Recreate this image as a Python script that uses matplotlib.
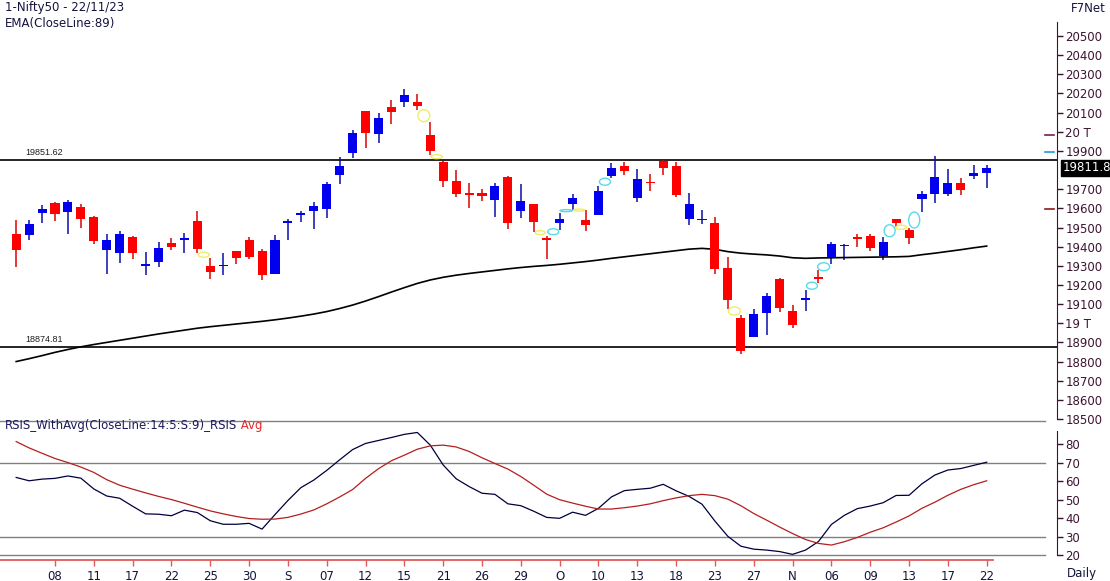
import matplotlib
matplotlib.use("Agg")
import matplotlib.pyplot as plt
from matplotlib.patches import Ellipse
import numpy as np

# --- Data (Nifty50 daily) ---
dates = ["03/08", "04/08", "07/08", "08/08", "09/08", "10/08", "11/08", "14/08", "16/08", "17/08",
         "18/08", "21/08", "22/08", "23/08", "24/08", "25/08", "28/08", "29/08", "30/08", "31/08",
         "01/09", "04/09", "05/09", "06/09", "07/09", "08/09", "11/09", "12/09", "13/09", "14/09",
         "15/09", "18/09", "20/09", "21/09", "22/09", "25/09", "26/09", "27/09", "28/09", "29/09",
         "03/10", "04/10", "05/10", "06/10", "09/10", "10/10", "11/10", "12/10", "13/10", "16/10",
         "17/10", "18/10", "19/10", "20/10", "23/10", "25/10", "26/10", "27/10", "30/10", "31/10",
         "01/11", "02/11", "03/11", "06/11", "07/11", "08/11", "09/11", "10/11", "12/11", "13/11",
         "15/11", "16/11", "17/11", "20/11", "21/11", "22/11"]

opens = [19464, 19463, 19577, 19627, 19579, 19606, 19554, 19384, 19369, 19451,
         19302, 19321, 19417, 19439, 19535, 19297, 19298, 19375, 19433, 19376,
         19258, 19525, 19564, 19588, 19599, 19775, 19890, 20110, 19990, 20128,
         20156, 20156, 19981, 19841, 19745, 19678, 19682, 19642, 19762, 19588,
         19622, 19446, 19522, 19621, 19539, 19566, 19767, 19823, 19655, 19737,
         19848, 19820, 19546, 19542, 19522, 19286, 19027, 18929, 19053, 19233,
         19064, 19120, 19241, 19346, 19404, 19450, 19457, 19352, 19547, 19487,
         19651, 19675, 19674, 19731, 19771, 19784]
highs = [19538, 19538, 19620, 19634, 19646, 19624, 19558, 19466, 19483, 19456,
         19373, 19426, 19444, 19472, 19584, 19340, 19367, 19378, 19453, 19388,
         19459, 19545, 19587, 19632, 19737, 19867, 20008, 20110, 20097, 20168,
         20222, 20195, 20050, 19849, 19799, 19734, 19699, 19731, 19767, 19726,
         19623, 19458, 19577, 19676, 19589, 19718, 19839, 19844, 19805, 19781,
         19852, 19841, 19682, 19594, 19557, 19347, 19042, 19076, 19159, 19234,
         19096, 19175, 19276, 19424, 19412, 19464, 19464, 19451, 19547, 19495,
         19693, 19875, 19806, 19756, 19826, 19826]
lows = [19296, 19436, 19525, 19533, 19468, 19495, 19413, 19258, 19317, 19334,
        19254, 19296, 19381, 19367, 19369, 19230, 19250, 19309, 19335, 19224,
        19256, 19433, 19530, 19490, 19550, 19727, 19865, 19915, 19943, 20043,
        20130, 20116, 19879, 19710, 19658, 19602, 19637, 19554, 19492, 19551,
        19475, 19334, 19487, 19589, 19480, 19565, 19757, 19773, 19635, 19692,
        19776, 19660, 19513, 19519, 19258, 19074, 18838, 18927, 18940, 19057,
        18974, 19064, 19211, 19310, 19330, 19400, 19379, 19329, 19501, 19415,
        19580, 19627, 19667, 19671, 19754, 19704]
closes = [19382, 19517, 19597, 19571, 19633, 19543, 19428, 19435, 19465, 19365,
          19310, 19394, 19396, 19444, 19387, 19266, 19306, 19343, 19347, 19254,
          19435, 19529, 19575, 19611, 19727, 19820, 19996, 19993, 20070, 20103,
          20192, 20133, 19901, 19742, 19674, 19675, 19665, 19716, 19524, 19638,
          19529, 19436, 19546, 19654, 19512, 19690, 19811, 19794, 19751, 19732,
          19812, 19671, 19625, 19543, 19282, 19122, 18857, 19047, 19141, 19080,
          18989, 19133, 19231, 19412, 19407, 19444, 19395, 19425, 19526, 19444,
          19675, 19765, 19732, 19694, 19783, 19812]

ema89 = [18800, 18815, 18831, 18848, 18863, 18877, 18889, 18900, 18911, 18922,
         18933, 18944, 18954, 18964, 18974, 18982, 18989, 18996, 19003, 19010,
         19018, 19027, 19037, 19048, 19061, 19077, 19095, 19116, 19139, 19163,
         19186, 19208, 19226, 19240, 19251, 19260, 19268, 19276, 19284, 19291,
         19297, 19302, 19308, 19315, 19322, 19330, 19339, 19347, 19355, 19363,
         19371, 19379, 19387, 19391, 19386, 19374, 19366, 19361, 19357, 19351,
         19342, 19339, 19341, 19342, 19343, 19344, 19345, 19346, 19347, 19349,
         19358, 19366, 19375, 19384, 19394, 19403]

rsi = [62.0, 60.2, 61.1, 61.5, 62.8, 61.6, 55.8, 52.0, 50.8, 46.5,
       42.4, 42.2, 41.4, 44.4, 43.1, 38.7, 36.8, 36.8, 37.3, 34.2,
       42.0, 49.6, 56.5, 60.6, 65.8, 71.5, 77.0, 80.3, 81.9, 83.5,
       85.2, 86.2, 79.4, 68.7, 61.3, 57.1, 53.5, 52.9, 47.8, 46.8,
       43.8, 40.5, 40.0, 43.3, 41.6, 45.4, 51.5, 54.9, 55.6, 56.2,
       58.3, 54.8, 51.8, 47.6, 38.5, 30.3, 25.0, 23.4, 22.9, 22.1,
       20.6, 22.9, 27.5, 36.7, 41.6, 45.2, 46.6, 48.4, 52.3, 52.4,
       58.6, 63.3, 66.0, 66.8, 68.5, 70.2]
rsi_avg = [81.3, 77.9, 75.0, 72.2, 70.0, 67.6, 64.7, 60.8, 57.8, 55.7,
           53.7, 51.8, 50.1, 48.1, 46.0, 44.0, 42.4, 41.0, 39.9, 39.5,
           39.6, 40.5, 42.3, 44.5, 47.8, 51.5, 55.5, 61.5, 66.7, 71.0,
           74.0, 77.2, 79.0, 79.4, 78.4, 76.0, 72.6, 69.5, 66.5, 62.5,
           57.8, 53.0, 50.0, 48.2, 46.5, 45.0, 45.0, 45.7, 46.6, 47.8,
           49.5, 51.0, 52.2, 52.9, 52.2, 50.3, 46.8, 42.6, 39.0, 35.3,
           31.8, 28.6, 26.5, 25.6, 27.4, 29.7, 32.5, 34.9, 38.0, 41.3,
           45.4, 48.7, 52.4, 55.6, 58.1, 60.2]

tick_labels = ["08", "11", "17", "22", "25", "30", "S", "07", "12", "15", "21", "26", "29",
               "O", "10", "13", "18", "23", "27", "N", "06", "09", "13", "17", "22"]

# signal markers (bar position, price, colour)
mark_pos = [14.5, 31.5, 32.5, 40.5, 41.5, 42.5, 43.5, 45.5, 55.5, 61.5, 62.4, 67.5, 68.4, 69.4]
mark_price = [19358, 20084, 19870, 19473, 19478, 19588, 19591, 19739, 19064, 19196, 19295,
              19483, 19501, 19539]
mark_kind = ["y", "y", "y", "y", "c", "c", "y", "c", "y", "c", "c", "c", "y", "c"]

levels = [19851.62, 18874.81]
last_price = 19811.8

# --- Styling ---
plt.rcParams["font.family"] = ["DejaVu Sans"]
W, H = 1110, 581
PX = 12.94                    # pixels per bar
PPX = 5.222                   # price per pixel
BLUE, BLUE_W = "#0000ee", "#0c0ca8"
RED, RED_W = "#ff0000", "#dd0000"
AXC = "#3c1432"
TXT = "#14143c"
mark_w = [11, 12, 11, 10, 11, 12, 11, 11, 12, 11, 12, 11, 11, 11]
mark_h = [5, 12, 4, 4, 6, 2, 2, 7, 8, 7, 8, 12, 4, 16]
mark_col = {"y": "#eeee66", "c": "#55dde6"}


def rect(x0, y0, x1, y1):
    return [x0 / W, 1 - y1 / H, (x1 - x0) / W, (y1 - y0) / H]


fig = plt.figure(figsize=(W / 100, H / 100), dpi=100)
ax = fig.add_axes(rect(0, 0, 1057, 419))
ax2 = fig.add_axes(rect(0, 420, 1057, 560))

x = np.arange(len(dates))
o = np.array(opens, float)
h = np.array(highs, float)
l = np.array(lows, float)
c = np.array(closes, float)
xlim = (-16.18 / PX, (1057 - 16.18) / PX)

# --- Candles ---
up = c >= o
ax.vlines(x, l, h, colors=np.where(up, BLUE_W, RED_W), lw=1.1, zorder=2)
hgt = np.maximum(np.abs(c - o), 9)
ax.bar(x, hgt, 0.7, bottom=(o + c) / 2 - hgt / 2, color=np.where(up, BLUE, RED), zorder=3)

ax.plot(x, ema89, color="black", lw=1.2, zorder=2)

for p, pr, k, w, hh in zip(mark_pos, mark_price, mark_kind, mark_w, mark_h):
    ax.add_patch(Ellipse((p, pr), w / PX, hh * PPX, fill=False, ec=mark_col[k], lw=1.0, zorder=4))

for lv in levels:
    ax.axhline(lv, color="black", lw=1.2, zorder=1)
    ax.annotate(f"{lv:.2f}", xy=(25 / 1057, lv), xycoords=("axes fraction", "data"),
                xytext=(0, 2), textcoords="offset points", fontsize=6.5,
                family="Liberation Sans", color="#202020", va="bottom")

# small marks left of the price scale
for lv, col in [(19983, "#7a1a5a"), (19896, "#1a9ed0"), (19595, "#8a1a1a")]:
    ax.axhline(lv, xmin=1045 / 1057, xmax=1054 / 1057, color=col, lw=1.2)

ax.set_xlim(*xlim)
ax.set_ylim(18500, 18500 + 419 * PPX)
for s in ["left", "top", "bottom"]:
    ax.spines[s].set_visible(False)
ax.spines["right"].set_color(AXC)
ax.spines["right"].set_bounds(18500, 20573)
yt = [v for v in range(18500, 20501, 100) if v != 19800]
ax.set_yticks(yt)
ax.set_yticklabels(["19 T" if v == 19000 else "20 T" if v == 20000 else str(v) for v in yt])
ax.yaxis.tick_right()
ax.tick_params(axis="y", length=4, width=1, colors=AXC, labelsize=8.5, pad=2)
ax.set_xticks([])
ax.annotate(f"{last_price}", xy=(1, last_price), xycoords=("axes fraction", "data"),
            xytext=(4, 0), textcoords="offset points", va="center", ha="left",
            fontsize=8.5, color="white", annotation_clip=False,
            bbox=dict(boxstyle="square,pad=0.12", fc="black", ec="black"))

# --- RSI panel ---
ax2.plot(x, rsi, color="#00003c", lw=0.9, zorder=3)
ax2.plot(x, rsi_avg, color="#b41e1e", lw=0.9, zorder=3)
for lv in [92.6, 70, 30, 20]:
    ax2.axhline(lv, xmax=1045 / 1057, color="#808080", lw=1.0, zorder=1)
ax2.set_xlim(*xlim)
ax2.set_ylim(80 - 116 / 1.858, 80 + 24 / 1.858)
for s in ["left", "top"]:
    ax2.spines[s].set_visible(False)
ax2.spines["right"].set_color(AXC)
ax2.spines["right"].set_bounds(20, 87)
ax2.spines["bottom"].set_color("#e05a5a")
ax2.spines["bottom"].set_linewidth(1.3)
ax2.spines["bottom"].set_bounds(xlim[0], (993 - 16.18) / PX)
ax2.set_yticks(range(20, 81, 10))
ax2.yaxis.tick_right()
ax2.tick_params(axis="y", length=4, width=1, colors=AXC, labelsize=8.5, pad=2)
ax2.set_xticks(x[3::3])
ax2.set_xticklabels(tick_labels)
ax2.tick_params(axis="x", length=4, width=1, color="#e05a5a", labelcolor=TXT, labelsize=8.5, pad=3)

# --- Texts ---
fig.text(5 / W, 1 - 8 / H, "1-Nifty50 - 22/11/23", fontsize=8.5, color=TXT, va="center")
fig.text(5 / W, 1 - 23 / H, "EMA(CloseLine:89)", fontsize=8.5, color=TXT, va="center")
fig.text(1088 / W, 1 - 8 / H, "F7Net", fontsize=8.5, color=TXT, va="center", ha="center")
fig.text(1082 / W, 1 - 573 / H, "Daily", fontsize=8.5, color=TXT, va="center", ha="center")
t1 = fig.text(5 / W, 1 - 426 / H, "RSIS_WithAvg(CloseLine:14:5:S:9)_RSIS", fontsize=8.5,
              color="#1a1a5a", va="center")
ax2.annotate(" Avg", xy=(1, 0.5), xycoords=t1, va="center", ha="left", fontsize=8.5,
             color="#e02828")

fig.savefig("out.png", dpi=100)
